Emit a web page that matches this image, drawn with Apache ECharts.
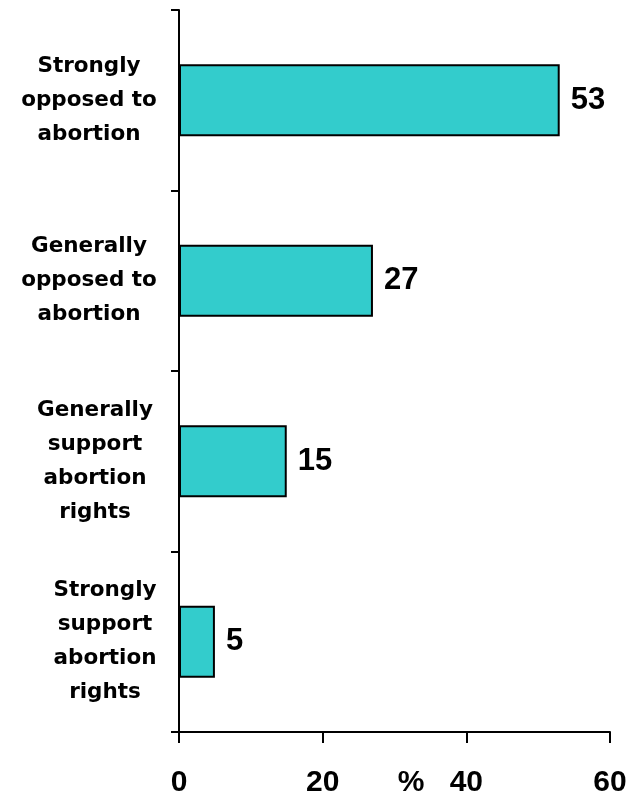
<!DOCTYPE html>
<html>
<head>
<meta charset="utf-8">
<script src="https://cdn.jsdelivr.net/npm/echarts@6/dist/echarts.min.js"></script>
<style>html,body{margin:0;padding:0;background:#fff;}#chart{width:633px;height:795px;}</style>
</head>
<body>
<div id="chart"></div>
<script>
const categories = [
  'Strongly\nopposed to\nabortion',
  'Generally\nopposed to\nabortion',
  'Generally\nsupport\nabortion\nrights',
  'Strongly\nsupport\nabortion\nrights'
];
const values = [53, 27, 15, 5];
const xTicks = [0, 20, 40, 60];
const axisUnit = '%';

const FONT = 'Arial, "Liberation Sans", sans-serif';
const YFONT = '"DejaVu Sans", Arial, sans-serif';
const labelPads = [[4,0,0,0],[3,0,0,0],[0,0,0,12],[0,0,0,32]];

const chart = echarts.init(document.getElementById('chart'), null, {renderer: 'canvas'});
chart.setOption({
  animation: false,
  backgroundColor: '#ffffff',
  grid: {left: 179, right: 23, top: 10, bottom: 63, containLabel: false, outerBoundsMode: 'none'},
  xAxis: {
    type: 'value',
    min: xTicks[0],
    max: xTicks[xTicks.length - 1],
    interval: xTicks[1] - xTicks[0],
    name: axisUnit,
    nameLocation: 'middle',
    nameGap: 36,
    nameMoveOverlap: false,
    nameTextStyle: {fontFamily: FONT, fontWeight: 'bold', fontSize: 30, color: '#000', padding: [0,0,0,33], verticalAlign: 'top'},
    axisLine: {show: true, onZero: false, lineStyle: {color: '#000', width: 2}},
    axisTick: {show: true, inside: false, length: 11, lineStyle: {color: '#000', width: 2}},
    axisLabel: {fontFamily: FONT, fontWeight: 'bold', fontSize: 30, color: '#000', margin: 36},
    splitLine: {show: false}
  },
  yAxis: {
    type: 'category',
    inverse: true,
    data: categories.map((c, i) => ({value: c, textStyle: {align: 'center', verticalAlign: 'middle', padding: labelPads[i], fontFamily: YFONT, fontWeight: 'bold', fontSize: 21.5, lineHeight: 34, color: '#000'}})),
    axisLine: {show: true, lineStyle: {color: '#000', width: 2}},
    axisTick: {show: true, inside: false, length: 8, alignWithLabel: false, lineStyle: {color: '#000', width: 2}},
    axisLabel: {fontFamily: YFONT, fontWeight: 'bold', fontSize: 21.5, lineHeight: 34, color: '#000', align: 'center', margin: 90},
    splitLine: {show: false}
  },
  series: [{
    type: 'bar',
    data: values,
    barWidth: '40%',
    itemStyle: {color: '#33CCCC', borderColor: '#000', borderWidth: 2},
    label: {show: true, position: 'right', distance: 11, padding: [6,0,0,0], fontFamily: FONT, fontWeight: 'bold', fontSize: 31, color: '#000'}
  }]
});
</script>
</body>
</html>
